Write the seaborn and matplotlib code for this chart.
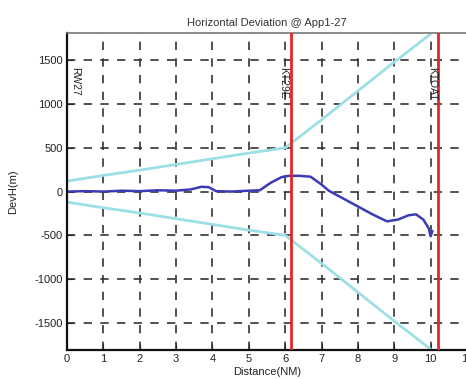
import numpy as np
import matplotlib
matplotlib.use("Agg")
import matplotlib.pyplot as plt
import seaborn as sns

# guide (containment) lines
guide_dist = [0, 1, 2, 3, 4, 5, 6, 7, 8, 9, 10]
guide_upper = [120, 185, 245, 310, 375, 440, 500, 820, 1150, 1480, 1800]
guide_lower = [-120, -185, -245, -310, -375, -440, -500, -820, -1150, -1480, -1800]

# measured horizontal deviation
track_dist = [0, 0.5, 1, 1.5, 2, 2.5, 3, 3.4, 3.7, 3.9, 4.1, 4.5, 5, 5.3, 5.6, 5.9,
              6.1, 6.4, 6.7, 7.0, 7.2, 7.6, 8.0, 8.4, 8.8, 9.1, 9.4, 9.6, 9.8, 9.95, 10.0, 10.05]
track_dev = [0, 5, 0, 10, 5, 15, 10, 25, 55, 50, 5, 0, 10, 15, 100, 165,
             180, 180, 170, 80, 10, -80, -170, -260, -340, -320, -270, -260, -320, -420, -510, -450]

# waypoint markers
fix_dist = [6.15, 10.2]
label_dist = [0.22, 5.93, 10.05]
label_names = ["RW27", "KT29E", "KTOAT"]

sns.set_style("white")
plt.rcParams['font.family'] = ['Liberation Sans', 'DejaVu Sans']
plt.rcParams['axes.unicode_minus'] = False

fig = plt.figure(figsize=(4.66, 3.79), dpi=100)
ax = fig.add_axes([0.144, 0.0765, 0.858, 0.836])

sns.lineplot(x=guide_dist, y=guide_upper, ax=ax, color='#9ddfe6', lw=2, estimator=None)
sns.lineplot(x=guide_dist, y=guide_lower, ax=ax, color='#9ddfe6', lw=2, estimator=None)
sns.lineplot(x=track_dist, y=track_dev, ax=ax, color='#3b3bb5', lw=1.8, estimator=None, sort=False)

for d in fix_dist:
    ax.axvline(d, color='#e3262a', lw=2, zorder=3)

for d, name in zip(label_dist, label_names):
    ax.text(d, 1420, name, rotation=270, ha='center', va='top', fontsize=7.5, color='#222222')

ax.set_xlim(0, 11)
ax.set_ylim(-1810, 1810)
ax.set_xticks(range(0, 12))
ax.set_yticks([-1500, -1000, -500, 0, 500, 1000, 1500])
ax.grid(True, color='#333333', linestyle=(0, (5, 5)), lw=1.2)
ax.tick_params(direction='in', length=4, labelsize=8, colors='#222222', pad=3)
ax.tick_params(axis='x', bottom=True)
ax.tick_params(axis='y', left=True)

for side in ['left', 'bottom']:
    ax.spines[side].set_color('#111111')
    ax.spines[side].set_linewidth(1.6)
ax.spines['top'].set_color('#777777')
ax.spines['top'].set_linewidth(1.2)
ax.spines['right'].set_visible(False)

ax.set_title('Horizontal Deviation @ App1-27', fontsize=8, color='#333333', pad=5)
ax.set_xlabel('Distance(NM)', fontsize=8, color='#222222', labelpad=2)
ax.set_ylabel('DevH(m)', fontsize=8, color='#222222', labelpad=12)

fig.savefig('out.png', dpi=100)
